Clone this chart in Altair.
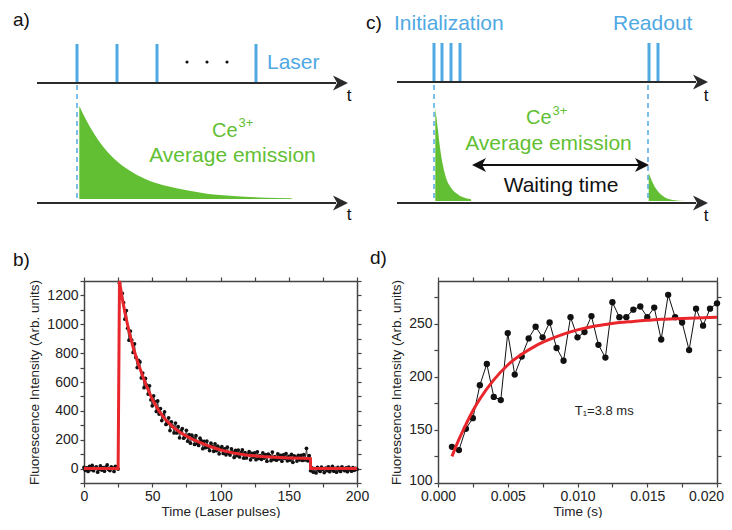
import altair as alt
import pandas as pd

FONT = "Liberation Sans"
BLUE = "#4fa9e2"
GREEN = "#62bf33"
DARK = "#2b2b2b"
RED = "#e8262b"

# ---------------- panel b: fluorescence vs laser pulses ----------------
b_time = list(range(0, 201))
b_before = [8, -12, 5, -20, 15, -8, 22, -15, 3, 12, -25, -5, 18, -10, 6, -18,
            10, 25, -6, -14, 12, 4, -20, 15, 8, -3]                      # t = 0..25
b_decay = [1285, 1190, 1215, 1150, 1035, 1095, 972, 890, 953, 891, 805, 865,
           770, 700, 750, 739, 628, 662, 561, 625, 578, 516, 574, 477, 435, 504,
           462, 396, 469, 378, 416, 333, 371, 393, 306, 312, 352, 263, 323, 294,
           247, 315, 247, 290, 213, 262, 277, 211, 221, 265, 190, 235, 176, 231,
           211, 167, 228, 174, 160, 211, 192, 138, 189, 145, 191, 148, 125, 176,
           153, 120, 172, 124, 155, 102, 139, 152, 105, 137, 95, 148, 106, 94,
           136, 114, 77, 126, 89, 128, 81, 110, 129, 72, 111, 74, 98, 117, 61,
           105, 79, 108, 62, 116, 70, 90, 64, 108, 73, 97, 51, 101, 90, 55, 114,
           63, 83, 58, 102, 67, 91, 51, 95, 70, 104, 54, 84, 59, 98, 43, 88, 77,
           52, 92, 61, 91, 56, 96, 60, 140, 54, 89]                         # t = 26..165
b_after = [-15, 5, -25, 0, -30, 8, -12, -20, 10, -5, -28, 3, -15, 12, -22, -8,
           15, -18, 2, -25, 8, -10, -20, 12, -5, -15, 5, -22, 10, -8, -18, 6,
           -12, 2, -5]                                                      # t = 166..200
b_signal = b_before + b_decay + b_after

b_fit_time = [0, 25, 26, 27, 28, 30, 33, 36, 40, 45, 50, 55, 60, 65, 70, 75, 80,
              90, 100, 110, 120, 130, 140, 150, 160, 165.9, 166, 200]
b_fit = [0, 0, 1300, 1240, 1180, 1080, 950, 840, 720, 590, 480, 398, 336, 289,
         253, 225, 201, 161, 129, 107, 93, 84, 78, 74, 71, 69, 0, 0]

# ---------------- panel d: recovery vs waiting time ----------------
d_time = [0.0010, 0.0015, 0.0020, 0.0025, 0.0030, 0.0035, 0.0040, 0.0045,
          0.0050, 0.0055, 0.0060, 0.0065, 0.0070, 0.0075, 0.0080, 0.0085,
          0.0090, 0.0095, 0.0100, 0.0105, 0.0110, 0.0115, 0.0120, 0.0125,
          0.0130, 0.0135, 0.0140, 0.0145, 0.0150, 0.0155, 0.0160, 0.0165,
          0.0170, 0.0175, 0.0180, 0.0185, 0.0190, 0.0195, 0.0200]
d_signal = [134, 131, 151, 161, 192, 212, 181, 178, 241, 202, 219, 236, 247,
            237, 251, 227, 215, 256, 237, 242, 257, 230, 218, 270, 256, 256,
            263, 266, 256, 265, 235, 277, 256, 251, 225, 264, 248, 264, 269]
d_fit_time = [0.0010, 0.0015, 0.0020, 0.0025, 0.0030, 0.0040, 0.0050, 0.0060,
              0.0070, 0.0080, 0.0090, 0.0100, 0.0110, 0.0120, 0.0130, 0.0140,
              0.0150, 0.0160, 0.0170, 0.0180, 0.0190, 0.0200]
d_fit = [125, 141, 155, 168, 179, 197, 211, 221, 229, 235, 240, 244, 247, 249,
         251, 252, 253, 254, 254.5, 255, 255.5, 256]
d_note = ["T\u2081=3.8 ms"]
d_note_x = [0.0098]
d_note_y = [168]

# ---------------- schematic panels a) and c) (drawing units) ----------------
a_pulses = [77, 117, 157, 256]
c_pulses = [434, 442, 451, 460, 649, 658]
pulse_top, pulse_bottom = [43, 42], [82, 81]
a_dots = [187, 207, 227]
timelines = {"x": [37, 37, 397, 397], "x2": [336, 336, 696, 696],
             "y": [82, 202, 81, 202]}
head_right = {"x": [340.5, 340.5, 700.5, 700.5], "y": [82, 202, 81, 202]}
dashed = {"x": [77, 434, 648], "y": [84, 84, 84], "y2": [200, 200, 200]}
wait_arrow = {"x": [481], "x2": [640], "y": [164]}
wait_heads_r = {"x": [642], "y": [164]}
wait_heads_l = {"x": [479], "y": [164]}

a_decay_x = [79.3, 86.7, 96.7, 106.7, 116.7, 133.3, 150, 166.7, 186.7, 206.7,
             233.3, 266.7, 291.7]
a_decay_y = [105, 120, 136.7, 150, 160, 171.7, 180, 185, 189.3, 192.7, 195,
             196.7, 197.3]
c_decay1_x = [435.3, 437.7, 440, 442.7, 446, 451, 457.7, 466, 471]
c_decay1_y = [106.7, 126.7, 146.7, 163.3, 176.7, 186.7, 193.3, 197.3, 198.3]
c_decay2_x = [648.7, 652.7, 657.7, 664.3, 672.7, 685.3]
c_decay2_y = [171.7, 181.7, 190, 196, 199, 200]

blue_labels = ["Laser", "Initialization", "Readout"]
blue_x, blue_y = [267, 394, 613], [62, 22.5, 22.5]
ce_x, ce_y = [212, 526], [130, 117]
sup_x, sup_y = [238.5, 552.5], [122, 110]
avg_x, avg_y = [232.5, 548.5], [155, 142.5]
t_x, t_y = [349, 349, 706, 706], [95, 214, 95, 215]
panel_labels = ["a)", "c)", "b)", "d)"]
panel_x, panel_y = [13, 366, 13, 370], [19, 21.5, 259, 257]

# ---------------- schematic chart ----------------
SX = alt.Scale(domain=[84, 717], nice=False, zero=False)
SY = alt.Scale(domain=[8, 272], nice=False, zero=False, reverse=True)


def sx(f):
    return alt.X(f + ":Q", scale=SX, axis=None)


def sy(f):
    return alt.Y(f + ":Q", scale=SY, axis=None)


def texts(labels, xs, ys, color, size, align="left"):
    df = pd.DataFrame({"x": xs, "y": ys, "label": labels})
    return alt.Chart(df).mark_text(align=align, baseline="middle", font=FONT,
                                   fontSize=size, color=color).encode(
        x=sx("x"), y=sy("y"), text="label:N")


def area(xs, ys, base):
    df = pd.DataFrame({"x": xs, "y": ys, "base": [base] * len(xs)})
    return alt.Chart(df).mark_area(color=GREEN, opacity=1, interpolate="monotone").encode(
        x=sx("x"), y=sy("y"), y2="base:Q")


ARROW_R = "M1,0L-1,-1L-0.45,0L-1,1Z"
ARROW_L = "M-1,0L1,-1L0.45,0L1,1Z"

pulse_df = pd.DataFrame({
    "x": a_pulses + c_pulses,
    "y": [pulse_top[0]] * len(a_pulses) + [pulse_top[1]] * len(c_pulses),
    "y2": [pulse_bottom[0]] * len(a_pulses) + [pulse_bottom[1]] * len(c_pulses)})

layers = [
    area(a_decay_x, a_decay_y, 198),
    area(c_decay1_x, c_decay1_y, 200),
    area(c_decay2_x, c_decay2_y, 200),
    alt.Chart(pd.DataFrame(dashed)).mark_rule(color=BLUE, strokeWidth=1.5,
                                              strokeDash=[5, 4]).encode(
        x=sx("x"), y=sy("y"), y2="y2:Q"),
    alt.Chart(pulse_df).mark_rule(color=BLUE, strokeWidth=3).encode(
        x=sx("x"), y=sy("y"), y2="y2:Q"),
    alt.Chart(pd.DataFrame(timelines)).mark_rule(color=DARK, strokeWidth=2).encode(
        x=sx("x"), x2="x2:Q", y=sy("y")),
    alt.Chart(pd.DataFrame(head_right)).mark_point(
        shape=ARROW_R, filled=True, size=225, color=DARK, opacity=1, strokeWidth=0).encode(
        x=sx("x"), y=sy("y")),
    alt.Chart(pd.DataFrame(wait_arrow)).mark_rule(color="#111", strokeWidth=2).encode(
        x=sx("x"), x2="x2:Q", y=sy("y")),
    alt.Chart(pd.DataFrame(wait_heads_r)).mark_point(
        shape=ARROW_R, filled=True, size=196, color="#111", opacity=1, strokeWidth=0).encode(
        x=sx("x"), y=sy("y")),
    alt.Chart(pd.DataFrame(wait_heads_l)).mark_point(
        shape=ARROW_L, filled=True, size=196, color="#111", opacity=1, strokeWidth=0).encode(
        x=sx("x"), y=sy("y")),
    alt.Chart(pd.DataFrame({"x": a_dots, "y": [61] * 3})).mark_circle(
        size=10, color="#111", opacity=1).encode(x=sx("x"), y=sy("y")),
    texts(blue_labels, blue_x, blue_y, BLUE, 21),
    texts(["Ce", "Ce"], ce_x, ce_y, GREEN, 20),
    texts(["3+", "3+"], sup_x, sup_y, GREEN, 13),
    texts(["Average emission", "Average emission"], avg_x, avg_y, GREEN, 21, "center"),
    texts(["Waiting time"], [561], [184.5], "#111", 21, "center"),
    texts(["t"] * 4, t_x, t_y, "#111", 17, "center"),
    texts(panel_labels, panel_x, panel_y, "#111", 19),
]
schematic = alt.layer(*layers).properties(width=633, height=264)

# ---------------- data panels ----------------
AX = dict(labelFont=FONT, titleFont=FONT, labelFontSize=14, titleFontSize=13.5,
          labelColor="#222", titleColor="#222", domainColor="#444",
          domainWidth=1.5, tickColor="#444", tickWidth=1.2, tickSize=4,
          grid=False, titleFontWeight="normal",
          labelOverlap=False, labelFlush=False)

# b)
bx = alt.Scale(domain=[0, 200], nice=False)
by = alt.Scale(domain=[-100, 1300], nice=False)
b_xticks = list(range(0, 201, 25))
b_yticks = list(range(-100, 1301, 100))
b_df = pd.DataFrame({"t": b_time, "v": b_signal})
b_fit_df = pd.DataFrame({"t": b_fit_time, "v": b_fit})

b_line = alt.Chart(b_df).mark_line(color="#111", strokeWidth=0.8).encode(
    x=alt.X("t:Q", scale=bx, axis=alt.Axis(
        orient="bottom", values=b_xticks, title="Time (Laser pulses)", titlePadding=1,
        labelPadding=2, labelExpr="datum.value % 50 == 0 ? datum.label : ''", **AX)),
    y=alt.Y("v:Q", scale=by, axis=alt.Axis(
        orient="left", values=b_yticks, title="Fluorescence Intensity (Arb. units)",
        titlePadding=5, labelPadding=2,
        labelExpr="(datum.value >= 0 && datum.value % 200 == 0) ? datum.label : ''",
        format="d", **AX)))
b_pts = alt.Chart(b_df).mark_circle(color="#111", size=14, opacity=1).encode(
    x=alt.X("t:Q", scale=bx, axis=None), y=alt.Y("v:Q", scale=by, axis=None))
b_red = alt.Chart(b_fit_df).mark_line(color=RED, strokeWidth=3).encode(
    x=alt.X("t:Q", scale=bx, axis=alt.Axis(orient="top", values=b_xticks,
                                             labels=False, title=None, **AX)),
    y=alt.Y("v:Q", scale=by, axis=alt.Axis(orient="right", values=b_yticks,
                                             labels=False, title=None, **AX)))
panel_b = alt.layer(b_line, b_pts, b_red).resolve_axis(
    x="independent", y="independent").properties(width=273, height=202)

# d)
dx = alt.Scale(domain=[0, 0.02], nice=False)
dy = alt.Scale(domain=[100, 290], nice=False)
d_xticks = [0.0, 0.0025, 0.005, 0.0075, 0.01, 0.0125, 0.015, 0.0175, 0.02]
d_yticks = [100, 125, 150, 175, 200, 225, 250, 275]
d_df = pd.DataFrame({"t": d_time, "v": d_signal})
d_fit_df = pd.DataFrame({"t": d_fit_time, "v": d_fit})
d_note_df = pd.DataFrame({"t": d_note_x, "v": d_note_y, "label": d_note})

d_line = alt.Chart(d_df).mark_line(color="#111", strokeWidth=1).encode(
    x=alt.X("t:Q", scale=dx, axis=alt.Axis(
        orient="bottom", values=d_xticks, title="Time (s)", titlePadding=1,
        labelPadding=2,
        labelOffset={"condition": {"test": "datum.value > 0.0199", "value": -11},
                     "value": 0},
        labelExpr="abs((datum.value * 1000) % 5) < 0.01 || abs((datum.value * 1000) % 5 - 5) < 0.01 ? format(datum.value, '.3f') : ''",
        **AX)),
    y=alt.Y("v:Q", scale=dy, axis=alt.Axis(
        orient="left", values=d_yticks, title="Fluorescence Intensity (Arb. units)",
        titlePadding=5, labelPadding=2,
        labelOffset={"condition": {"test": "datum.value == 100", "value": -3},
                     "value": 0},
        labelExpr="datum.value % 50 == 0 ? datum.label : ''", **AX)))
d_pts = alt.Chart(d_df).mark_circle(color="#111", size=40, opacity=1).encode(
    x=alt.X("t:Q", scale=dx, axis=None), y=alt.Y("v:Q", scale=dy, axis=None))
d_red = alt.Chart(d_fit_df).mark_line(color=RED, strokeWidth=3,
                                       interpolate="monotone").encode(
    x=alt.X("t:Q", scale=dx, axis=alt.Axis(orient="top", values=d_xticks,
                                             labels=False, title=None, **AX)),
    y=alt.Y("v:Q", scale=dy, axis=alt.Axis(orient="right", values=d_yticks,
                                             labels=False, title=None, **AX)))
d_txt = alt.Chart(d_note_df).mark_text(align="left", baseline="middle", font=FONT,
                                       fontSize=13, color="#222").encode(
    x=alt.X("t:Q", scale=dx, axis=None), y=alt.Y("v:Q", scale=dy, axis=None),
    text="label:N")
panel_d = alt.layer(d_line, d_pts, d_red, d_txt).resolve_axis(
    x="independent", y="independent").properties(width=279, height=202)

bottom = alt.hconcat(panel_b, panel_d, spacing=81, bounds="flush")
chart = alt.vconcat(schematic, bottom, spacing=8, bounds="flush").properties(
    padding={"left": 5, "top": 1, "right": 0, "bottom": 0}
).configure_view(stroke=None)

chart.save("out.html", embed_options={"renderer": "svg", "actions": False})
